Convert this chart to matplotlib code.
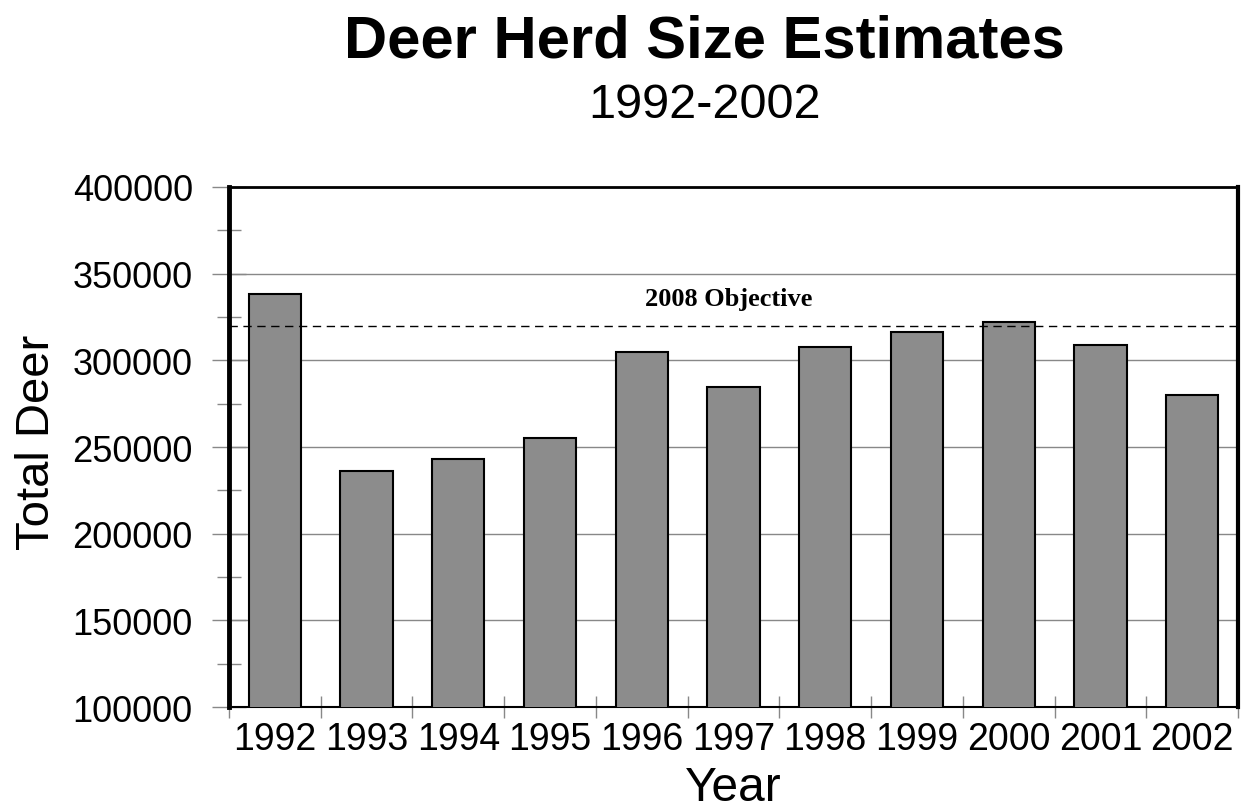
import matplotlib.pyplot as plt
from matplotlib.ticker import MultipleLocator

# Data
years = ['1992', '1993', '1994', '1995', '1996', '1997', '1998', '1999', '2000', '2001', '2002']
deer = [338000, 236000, 243000, 255000, 305000, 284600, 307700, 316500, 322000, 309000, 280000]
objective = 320000
objective_label = '2008 Objective'

plt.rcParams['font.family'] = ['Liberation Sans', 'DejaVu Sans']

fig = plt.figure(figsize=(12.41, 8.12), dpi=100)
ax = fig.add_axes([0.1845, 0.128, 0.8131, 0.6405])

x = range(len(years))
ax.bar(x, deer, width=0.57, color='#8c8c8c', edgecolor='black', linewidth=1.5, zorder=3)

# objective line
ax.axhline(objective, color='black', linestyle=(0, (6, 4)), linewidth=1, zorder=4)
ax.text(4.95, 331900, objective_label, ha='center', va='baseline',
        family='Liberation Serif', fontweight='bold', fontsize=19)

ax.set_xlim(-0.5, len(years) - 0.5)
ax.set_ylim(100000, 400000)

# y axis ticks
ax.yaxis.set_major_locator(MultipleLocator(50000))
ax.yaxis.set_minor_locator(MultipleLocator(25000))
ax.tick_params(axis='y', which='major', direction='inout', length=24, width=1,
               color='#888888', labelsize=26, pad=14)
ax.tick_params(axis='y', which='minor', direction='inout', length=17, width=1,
               color='#888888')
ax.grid(axis='y', which='major', color='#888888', linewidth=1, zorder=0)

# x axis: labels at centers, tick marks at boundaries
ax.set_xticks(list(x))
ax.set_xticklabels(years)
ax.set_xticks([i - 0.5 for i in range(len(years) + 1)], minor=True)
ax.tick_params(axis='x', which='major', length=0, labelsize=27, pad=10)
ax.tick_params(axis='x', which='minor', direction='inout', length=16, width=1,
               color='#888888')

ax.spines['left'].set_linewidth(3.5)
ax.spines['right'].set_linewidth(3)
ax.spines['top'].set_linewidth(2)
ax.spines['bottom'].set_linewidth(1.5)

ax.set_ylabel('Total Deer', fontsize=34)
ax.yaxis.set_label_coords(-0.168, 0.51)
ax.set_xlabel('Year', fontsize=34.5)
ax.xaxis.set_label_coords(0.5, -0.112)

fig.text(0.568, 1 - 57 / 812, 'Deer Herd Size Estimates', ha='center', va='baseline',
         fontsize=43, fontweight='bold')
fig.text(0.568, 1 - 118 / 812, '1992-2002', ha='center', va='baseline', fontsize=35)

fig.savefig('out.png', dpi=100)
